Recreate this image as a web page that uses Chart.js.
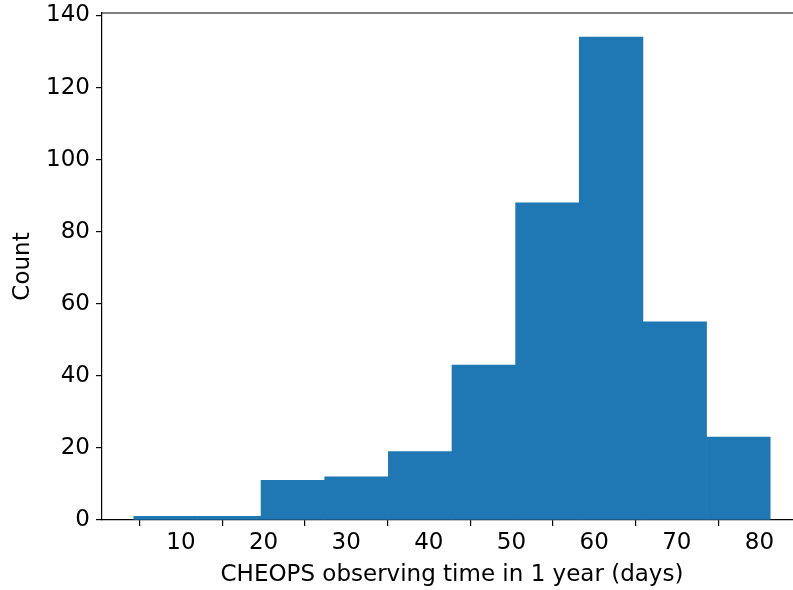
<!DOCTYPE html>
<html>
<head>
<meta charset="utf-8">
<script src="https://cdn.jsdelivr.net/npm/chart.js@4/dist/chart.umd.min.js"></script>
<style>
  html, body { margin: 0; padding: 0; background: #fff; overflow: hidden; }
  #wrap { width: 793px; height: 590px; overflow: hidden; }
  canvas { display: block; }
</style>
</head>
<body>
<div id="wrap"><canvas id="c" width="803" height="590"></canvas></div>
<script>
// Histogram of CHEOPS observing time per target over one year
const binEdges = [4.3, 12.0, 19.7, 27.4, 35.1, 42.8, 50.5, 58.2, 65.9, 73.6, 81.3];
const counts = [1, 1, 11, 12, 19, 43, 88, 134, 55, 23];
const xTicks = [10, 20, 30, 40, 50, 60, 70, 80];
const yTicks = [0, 20, 40, 60, 80, 100, 120, 140];
const xTitle = 'CHEOPS observing time in 1 year (days)';
const yTitle = 'Count';

const points = counts.map((c, i) => ({ x: (binEdges[i] + binEdges[i + 1]) / 2, y: c }));

const FONT = { family: 'DejaVu Sans', size: 23 };
const INK = '#000';

// matplotlib-style 5% margins around the data range
const span = binEdges[binEdges.length - 1] - binEdges[0];
const xMin = binEdges[0] - 0.05 * span;
const xMax = binEdges[binEdges.length - 1] + 0.05 * span;
const yMax = Math.max(...counts) * 1.05;

// draws the top spine of the axes box
const topSpine = {
  id: 'topSpine',
  afterDraw(chart) {
    const { ctx, chartArea } = chart;
    ctx.save();
    ctx.strokeStyle = INK;
    ctx.lineWidth = 1.2;
    ctx.beginPath();
    ctx.moveTo(chartArea.left, chartArea.top);
    ctx.lineTo(chartArea.right + 2, chartArea.top);
    ctx.stroke();
    ctx.restore();
  }
};

new Chart(document.getElementById('c'), {
  type: 'bar',
  data: {
    datasets: [{
      data: points,
      backgroundColor: '#1f77b4',
      borderWidth: 0,
      barPercentage: 1.0,
      categoryPercentage: 1.0
    }]
  },
  options: {
    responsive: false,
    devicePixelRatio: 1,
    animation: false,
    layout: { padding: { top: 13, right: 1, left: 0, bottom: 0 } },
    plugins: { legend: { display: false }, tooltip: { enabled: false } },
    scales: {
      x: {
        type: 'linear',
        min: xMin,
        max: xMax,
        offset: false,
        afterBuildTicks(scale) { scale.ticks = xTicks.map(v => ({ value: v })); },
        afterFit(scale) { scale.height = 70; scale.paddingLeft = 0; scale.paddingRight = 0; },
        grid: { display: true, drawOnChartArea: false, drawTicks: true, tickLength: 6, color: INK, lineWidth: 1.2 },
        border: { display: true, color: INK, width: 1.2 },
        ticks: { font: FONT, color: INK, padding: 3, maxRotation: 0, autoSkip: false },
        title: { display: true, text: xTitle, font: FONT, color: INK, padding: { top: 2, bottom: 1 } }
      },
      y: {
        type: 'linear',
        min: 0,
        max: yMax,
        afterBuildTicks(scale) { scale.ticks = yTicks.map(v => ({ value: v })); },
        afterFit(scale) { scale.width = 102; scale.paddingTop = 0; scale.paddingBottom = 0; },
        grid: { display: true, drawOnChartArea: false, drawTicks: true, tickLength: 6, color: INK, lineWidth: 1.2 },
        border: { display: true, color: INK, width: 1.2 },
        ticks: { font: FONT, color: INK, padding: 6, autoSkip: false },
        title: { display: true, text: yTitle, font: FONT, color: INK, padding: { top: 9, bottom: 0 } }
      }
    }
  },
  plugins: [topSpine]
});
</script>
</body>
</html>
